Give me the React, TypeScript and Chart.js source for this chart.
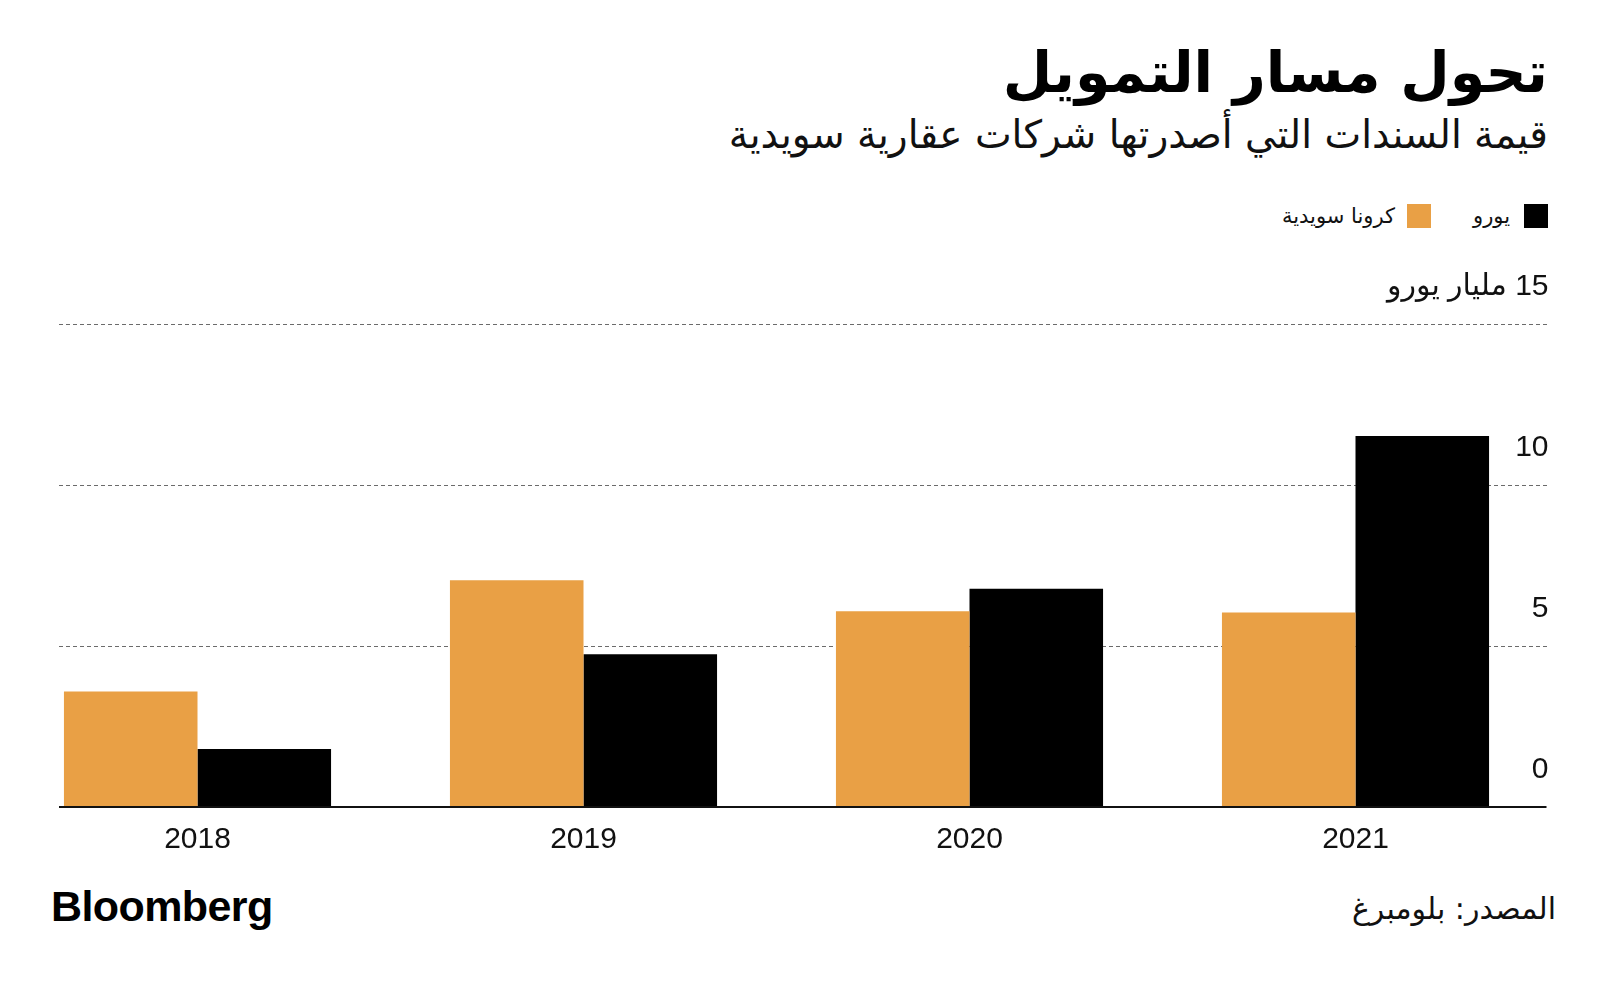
import React, { useEffect, useRef } from "react";
import { Chart, registerables } from "chart.js";

Chart.register(...registerables);

const categories = ["2018", "2019", "2020", "2021"];
const sekValues = [3.59, 7.04, 6.08, 6.04];
const eurValues = [1.8, 4.74, 6.78, 11.52];
const seriesNames = ["كرونا سويدية", "يورو"];
const yTicks = [0, 5, 10, 15];
const yTopLabel = "15 مليار يورو";

const TITLE = "تحول مسار التمويل";
const SUBTITLE = "قيمة السندات التي أصدرتها شركات عقارية سويدية";
const SOURCE = "المصدر: بلومبرغ";

const ORANGE = "#E9A045";
const BLACK = "#000000";
const AR_FONT = "'DejaVu Sans', sans-serif";
const NUM_FONT = "'Liberation Sans', 'DejaVu Sans', sans-serif";
const GRID_LEFT = 59;

const gridPlugin = {
  id: "customGrid",
  beforeDatasetsDraw(chart: any) {
    const ys = chart.scales.y;
    const ctx = chart.ctx;
    ctx.save();
    ctx.setLineDash([4, 3]);
    ctx.strokeStyle = "#6b6b6b";
    ctx.lineWidth = 1;
    ys.ticks.forEach((t: any) => {
      if (t.value === 0) return;
      const py = Math.round(ys.getPixelForValue(t.value)) + 0.5;
      ctx.beginPath();
      ctx.moveTo(GRID_LEFT, py);
      ctx.lineTo(chart.chartArea.right, py);
      ctx.stroke();
    });
    ctx.restore();
  },
  afterDatasetsDraw(chart: any) {
    const ys = chart.scales.y;
    const ctx = chart.ctx;
    const py = Math.round(ys.getPixelForValue(0));
    ctx.save();
    ctx.strokeStyle = "#111";
    ctx.lineWidth = 2;
    ctx.beginPath();
    ctx.moveTo(GRID_LEFT, py);
    ctx.lineTo(chart.chartArea.right - 2, py);
    ctx.stroke();
    ctx.restore();
  },
};

function BarChart() {
  const ref = useRef<HTMLCanvasElement | null>(null);
  useEffect(() => {
    if (!ref.current) return;
    const chart = new Chart(ref.current, {
      type: "bar",
      data: {
        labels: categories,
        datasets: [
          {
            label: seriesNames[0],
            data: sekValues,
            backgroundColor: ORANGE,
            borderWidth: 0,
          },
          {
            label: seriesNames[1],
            data: eurValues,
            backgroundColor: BLACK,
            borderWidth: 0,
          },
        ],
      },
      options: {
        responsive: false,
        animation: false,
        devicePixelRatio: 1,
        layout: { padding: { left: 4.5, right: 51.5, top: 74, bottom: 7 } },
        datasets: {
          bar: { categoryPercentage: 0.692, barPercentage: 1.0 },
        },
        plugins: {
          legend: { display: false },
          tooltip: { enabled: false },
          title: { display: false },
        },
        scales: {
          x: {
            offset: true,
            grid: { display: false, drawTicks: false },
            border: { display: false },
            ticks: {
              padding: 15,
              color: "#111",
              font: { family: NUM_FONT, size: 30 },
            },
          },
          y: {
            position: "right",
            min: 0,
            max: 15,
            afterBuildTicks: (scale: any) => {
              scale.ticks = yTicks.map((v) => ({ value: v }));
            },
            grid: { display: false, drawTicks: false },
            border: { display: false },
            ticks: {
              mirror: true,
              padding: 0,
              labelOffset: -37,
              color: "#111",
              font: { family: NUM_FONT, size: 30 },
              callback: (v: any) => (Number(v) === 15 ? "\u202B" + yTopLabel + "\u202C" : String(v)),
            },
          },
        },
      },
      plugins: [gridPlugin],
    });
    return () => chart.destroy();
  }, []);
  return <canvas ref={ref} width={1600} height={630} dir="rtl" style={{ display: "block" }} />;
}

export default function App() {
  const abs: React.CSSProperties = { position: "absolute", margin: 0, whiteSpace: "nowrap" };
  return (
    <div style={{ position: "fixed", left: 0, top: 0, width: 1600, height: 984, background: "#fff", overflow: "hidden" }}>
      <div dir="rtl" style={{ ...abs, right: 52, top: 37, fontFamily: AR_FONT, fontWeight: 700, fontSize: 57, lineHeight: "70px", color: "#000" }}>
        {TITLE}
      </div>
      <div dir="rtl" style={{ ...abs, right: 52, top: 112, fontFamily: AR_FONT, fontSize: 39, lineHeight: "46px", color: "#111" }}>
        {SUBTITLE}
      </div>
      <div dir="rtl" style={{ ...abs, right: 52, top: 203, display: "flex", alignItems: "center", fontFamily: AR_FONT, fontSize: 21, color: "#111", height: 25 }}>
        <span style={{ width: 24, height: 24, background: BLACK, display: "inline-block" }} />
        <span style={{ marginRight: 14 }}>{seriesNames[1]}</span>
        <span style={{ width: 24, height: 24, background: ORANGE, display: "inline-block", marginRight: 42 }} />
        <span style={{ marginRight: 12 }}>{seriesNames[0]}</span>
      </div>
      <div style={{ position: "absolute", left: 0, top: 250, width: 1600, height: 630 }}>
        <BarChart />
      </div>
      <div style={{ ...abs, left: 51, top: 881, fontFamily: "'Liberation Sans', Arial, sans-serif", fontWeight: 700, fontSize: 43, letterSpacing: -0.6, lineHeight: "50px", color: "#000" }}>
        Bloomberg
      </div>
      <div dir="rtl" style={{ ...abs, right: 44, top: 890, fontFamily: AR_FONT, fontSize: 30, lineHeight: "38px", color: "#111" }}>
        {SOURCE}
      </div>
    </div>
  );
}
